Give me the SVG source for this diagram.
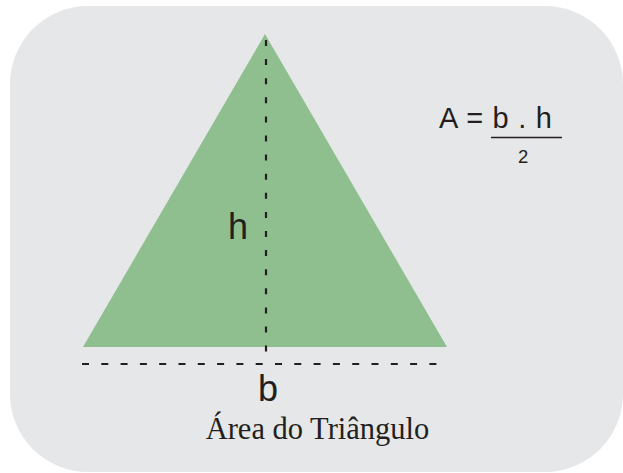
<svg xmlns="http://www.w3.org/2000/svg" width="623" height="473" viewBox="0 0 623 473">
  <style>
    .sans { font-family: "Liberation Sans", Arial, sans-serif; fill: #231f20; }
    .serif { font-family: "Liberation Serif", "Times New Roman", serif; fill: #231f20; }
    .dash { stroke: #231f20; stroke-width: 2.2; fill: none; }
  </style>
  <rect id="background" x="10" y="6" width="613" height="466" rx="78" ry="78" fill="#e6e7e8"/>
  <g id="triangle">
    <polygon points="265,34 83,347 447,347" fill="#8fbf8f"/>
  </g>
  <g id="connectors">
    <line class="dash" x1="266" y1="40" x2="266" y2="354" stroke-dasharray="6 13.1"/>
    <line class="dash" x1="82" y1="364" x2="437" y2="364" stroke-dasharray="7 12.3"/>
  </g>
  <g id="label-h">
    <text class="sans" x="228" y="239" font-size="36">h</text>
  </g>
  <g id="label-b">
    <text class="sans" x="258" y="400.5" font-size="36">b</text>
  </g>
  <g id="formula">
    <text class="sans" x="439" y="128" font-size="29" letter-spacing="0.7">A = b . h</text>
    <line x1="491" y1="137.5" x2="562" y2="137.5" stroke="#231f20" stroke-width="1.4"/>
    <text class="sans" x="518" y="163.3" font-size="18.5">2</text>
  </g>
  <g id="title">
    <text class="serif" x="317.5" y="438.5" font-size="30.5" text-anchor="middle">Área do Triângulo</text>
  </g>
</svg>
